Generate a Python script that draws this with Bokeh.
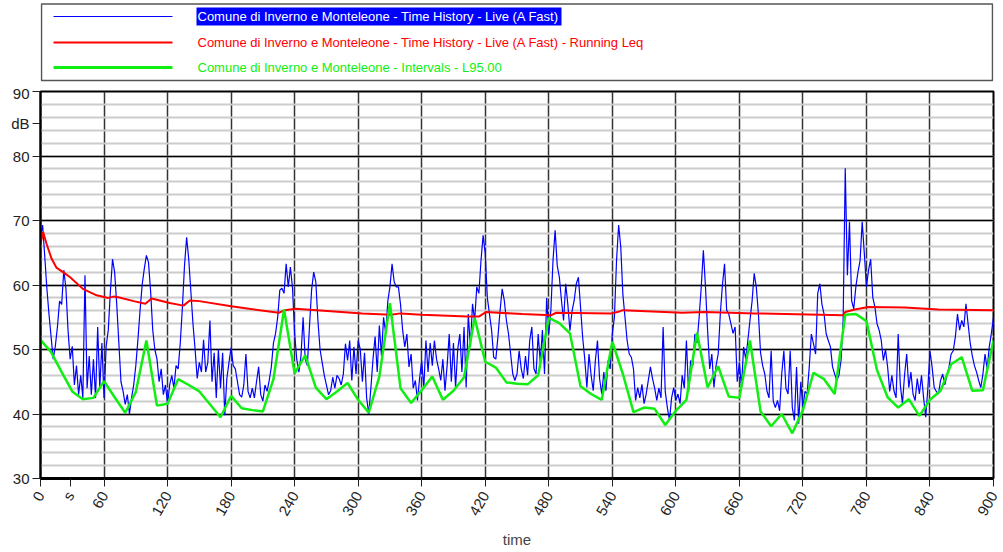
from bokeh.plotting import figure
from bokeh.models import Range1d, FixedTicker, SingleIntervalTicker
from bokeh.layouts import column
from bokeh.embed import file_html
from bokeh.resources import INLINE
from bokeh.core.properties import value

# ---------------- data ----------------
legend_labels = [
    "Comune di Inverno e Monteleone - Time History - Live (A Fast)",
    "Comune di Inverno e Monteleone - Time History - Live (A Fast) - Running Leq",
    "Comune di Inverno e Monteleone - Intervals - L95.00",
]
x_ticks = [0, 60, 120, 180, 240, 300, 360, 420, 480, 540, 600, 660, 720, 780, 840, 900]
y_ticks = [30, 40, 50, 60, 70, 80, 90]
x_unit, x_unit_pos = "s", 28
y_unit, y_unit_pos = "dB", 85
x_title = "time"

# Live (A Fast) time history, one value every 2 s
blue_seg1 = [67.5, 69.3, 64.5, 59.5, 55.5, 52, 48.5, 50.5, 53.5, 57.5, 57, 62.3, 59.5, 53, 48.5, 50.5,
             44.5, 47.5, 43, 46, 42.5, 61.5, 44, 49, 43, 48.5, 42.5, 53.5, 44, 51, 42.5, 50.5, 53, 59,
             64, 62, 57, 51, 45, 43.5, 41.5, 43, 40, 42.5, 44.5, 47.5, 51.5, 56, 60, 62.5, 64.6, 63.5,
             59, 53, 50, 48.5, 45, 47, 43, 44.5, 41.5, 44.5, 46, 44, 47.5, 47, 51, 56.5, 63, 67.4, 64,
             59, 54, 50, 45.5, 48]
blue_seg2 = [46.5, 51.5, 46.5, 48, 54.5, 45, 49.5, 42.5, 50, 44, 49.5, 39.8, 45.5, 48, 50.3, 47.5, 47,
             45, 43, 42.6, 44.5, 49.3, 43.5, 42.5, 44, 42.5, 45, 47.3, 43, 42, 44.5, 43.5, 45.2, 47.3,
             51, 52.5, 55, 59.2, 59.5, 58.7, 63.3, 59.7, 62.8, 59.5, 52.5, 48.5, 46.5, 49, 55, 48.5,
             47.5, 53.5, 59.2, 62, 60.5, 54.5, 50, 48, 46, 44.5, 43, 43.6, 45.7, 44, 46, 45.5, 44.5,
             46.2, 50.9, 48.3, 51.4, 45.2, 50.4, 46.2, 51.4]
blue_seg3 = [50, 45, 49.5, 42.5, 40, 44, 48.5, 52, 46.5, 53.7, 49, 55, 52.5, 57.5, 59.7, 63.3, 60.5,
             59.7, 59.7, 57, 53, 50.4, 52.4, 47.3, 49.3, 44, 45.2, 42.1, 45.5, 48.3, 44, 51.4, 46.5,
             51, 47.5, 51.4, 48.5, 47, 45.2, 48.5, 43.6, 47.5, 52.4, 45, 51, 44, 50, 52.4, 46.5, 53.5,
             44.1, 55.5, 50.4, 57.1, 54.5, 59.7, 58.7, 63.8, 67.7, 64.9, 58, 55.5, 53, 48.8, 48.5, 52,
             56, 59.4, 57.6, 54.5, 52.4, 49.3, 46.2, 45.2, 46.2]
blue_seg4 = [49.8, 47, 45.5, 49, 46, 51.4, 53.5, 47, 46.2, 52.4, 48, 53, 46.2, 58, 52.4, 56.1, 63.8,
             68.5, 63, 61.2, 57.6, 54.5, 60.2, 57, 52.9, 56, 57.6, 60.2, 61.2, 56.6, 51.9, 48.5, 44.1,
             49.3, 46, 43.6, 48.3, 51.4, 45.5, 43.1, 46.5, 43.6, 48.3, 47, 52.4, 55, 63.8, 69.3, 65.9,
             58.5, 55, 51.4, 49.3, 48.8, 47, 42.1, 44.1, 42.5, 44.6, 41.6, 43.1, 45.2, 47.3, 45.5, 44,
             42.1, 44, 42.5, 53.5, 43.5, 41, 39, 42.5, 44.1, 42.1]
blue_seg5 = [43.1, 41.6, 46, 44, 51.4, 43.5, 48.3, 47.5, 52.4, 51, 55, 59.7, 65.4, 59.7, 53, 47, 49.3,
             44.1, 47.5, 49.3, 55.5, 60, 63.3, 56.1, 55.5, 54, 52.5, 53.5, 45, 48, 44.1, 50.4, 48.5,
             51.4, 54.5, 57.5, 61.8, 59.7, 55.5, 49.5, 47.5, 46.2, 43.6, 42.5, 49.8, 42, 41, 42.1, 40.5,
             46.2, 49.8, 44, 43.1, 49.8, 41, 39, 47.3, 38.5, 45, 41, 43.5, 43.1, 47.3, 52.4, 50.9, 49.3,
             58.7, 60.2, 57, 55.5, 52.4, 51.4, 50.4, 47.3, 46.2, 45.2, 46, 48.3, 54.5]
blue_seg6 = [78.1, 61.5, 69.8, 57.6, 56.3, 59.7, 62, 63.8, 69.8, 64.9, 59.7, 62.3, 64, 58.1, 56.6, 54,
             53, 51.4, 48.3, 50, 47.3, 43.5, 46, 43.6, 42.5, 52.4, 44.5, 41.6, 46, 49.3, 44.1, 46.5,
             43.1, 42.1, 45.5, 43.1, 46, 42.5, 39.5, 44, 49.8, 47.3, 44.1, 43.5, 43.1, 45.2, 46.2, 44.5,
             46, 47.3, 49.3, 49.8, 52, 55.5, 53, 54.5, 53.5, 57.1, 54, 51, 49, 47.5, 46.5, 45.2, 44.1,
             46.2, 49.3, 47, 50.4, 52.5, 55]
blue_db = blue_seg1 + blue_seg2 + blue_seg3 + blue_seg4 + blue_seg5 + blue_seg6
blue_t = [2 * i for i in range(len(blue_db))]

# Running Leq
red_t = [0, 2.5, 5.7, 10.4, 15, 23, 28, 40, 53, 64, 68.8, 73.5, 88, 99, 105, 122, 135, 141, 150, 180,
         225, 231, 241, 261, 304, 331, 340, 360, 403, 414, 420.5, 455, 482, 487, 539, 545, 550, 606,
         627, 675, 758, 760, 769, 782, 816, 848, 900]
red_db = [66.4, 68.2, 66.4, 64.1, 62.7, 61.8, 61.2, 59.4, 58.4, 58.0, 58.2, 58.1, 57.5, 57.1, 57.9,
          57.2, 56.8, 57.6, 57.5, 56.7, 55.7, 56.1, 56.3, 56.1, 55.6, 55.4, 55.6, 55.4, 55.1, 55.1,
          55.8, 55.5, 55.3, 55.7, 55.6, 55.8, 56.1, 55.7, 55.8, 55.6, 55.3, 55.8, 56.2, 56.6, 56.5,
          56.2, 56.1]

# L95 per 10 s interval
green_t = [10 * i for i in range(91)]
green_db = [51.5, 49.6, 46.5, 43.5, 42.3, 42.5, 45.1, 42.6, 40.2, 43.4,
            51.4, 41.3, 41.6, 45.4, 44.5, 43.5, 41.5, 39.5, 42.8, 40.9,
            40.6, 40.4, 45.4, 56.2, 46.3, 49.1, 44.1, 42.3, 43.5, 44.8,
            42.2, 40.2, 45.8, 57.2, 44.0, 41.7, 43.7, 45.8, 42.2, 43.6,
            45.7, 54.9, 48.1, 47.2, 44.9, 44.7, 44.6, 46.0, 54.9, 54.1,
            52.5, 44.3, 43.1, 42.2, 51.2, 46.2, 40.3, 41.0, 40.8, 38.3,
            40.5, 42.2, 52.6, 44.1, 47.4, 42.7, 42.5, 51.4, 40.4, 38.1,
            40.0, 37.0, 40.6, 46.4, 45.4, 43.1, 55.4, 55.5, 54.4, 46.8,
            42.6, 41.0, 42.3, 39.7, 42.2, 43.6, 47.7, 48.8, 43.6, 43.7, 51.4]

# ---------------- styles ----------------
BLUE, RED, GREEN = "#0000ff", "#ff0000", "#11ee11"
colors = [BLUE, RED, GREEN]
widths = [1, 2, 3]
FONT = "Liberation Sans"

# ---------------- legend panel (coordinates = page pixels) ----------------
W = 1003
LEG_H = 84
leg = figure(width=W, height=LEG_H, x_range=Range1d(40, 993), y_range=Range1d(LEG_H, 0),
             toolbar_location=None, output_backend="svg", min_border=0,
             min_border_left=40, min_border_right=10,
             x_axis_type=None, y_axis_type=None, outline_line_color=None)
leg.xgrid.visible = False
leg.ygrid.visible = False
leg.quad(left=[41], right=[992], top=[3.5], bottom=[80], fill_color=None,
         line_color="#555555", line_width=1.5)
row_y = [16, 42, 67]
leg.quad(left=[196], right=[561], top=[7], bottom=[25], fill_color="#0000ff", line_color=None)
for i in range(3):
    leg.line([53, 172], [row_y[i], row_y[i]], line_color=colors[i], line_width=widths[i])
text_cols = ["white", RED, GREEN]
for i in range(3):
    leg.text([197], [row_y[i]], text=[legend_labels[i]], text_color=text_cols[i],
             text_font=value(FONT), text_font_size="13px", text_baseline="middle")

# ---------------- main plot ----------------
MAIN_H = 466
p = figure(width=W, height=MAIN_H, x_range=Range1d(0, 900), y_range=Range1d(30, 90),
           toolbar_location=None, output_backend="svg",
           min_border_left=40, min_border_right=10, min_border_top=7,
           min_border_bottom=MAIN_H - 7 - 387,
           outline_line_color="black", outline_line_width=2)

p.line(blue_t, blue_db, line_color=BLUE, line_width=1.2)
p.line(red_t, red_db, line_color=RED, line_width=2)
p.line(green_t, green_db, line_color=GREEN, line_width=2.5)

p.xaxis.ticker = FixedTicker(ticks=sorted(x_ticks + [x_unit_pos]), minor_ticks=[])
p.xaxis.major_label_overrides = {x_unit_pos: x_unit}
p.yaxis.ticker = FixedTicker(ticks=sorted(y_ticks + [y_unit_pos]), minor_ticks=[])
p.yaxis.major_label_overrides = {y_unit_pos: y_unit}
p.xgrid.ticker = FixedTicker(ticks=x_ticks)
p.ygrid.ticker = SingleIntervalTicker(interval=10, num_minor_ticks=5)

p.xaxis.major_label_orientation = 1.05
p.xaxis.axis_label = x_title
p.xaxis.axis_label_text_font_style = "normal"
p.xaxis.axis_label_text_font = FONT
p.xaxis.axis_label_text_font_size = "15px"
p.xaxis.axis_label_standoff = 5
for ax in (p.xaxis, p.yaxis):
    ax.major_label_text_font = FONT
    ax.major_label_text_font_size = "15px"
    ax.major_label_text_color = "#222222"
    ax.major_tick_line_color = "#222222"
    ax.major_tick_out = 8
    ax.major_tick_in = 0
    ax.minor_tick_line_color = None
    ax.major_label_standoff = 3
p.xaxis.major_label_standoff = 6
p.xaxis.axis_line_width = 3
p.yaxis.axis_line_width = 2

p.xgrid.grid_line_color = "#333333"
p.xgrid.grid_line_width = 1.5
p.ygrid.grid_line_color = "black"
p.ygrid.grid_line_width = 1.5
p.ygrid.minor_grid_line_color = "#cccccc"
p.ygrid.minor_grid_line_width = 2

layout = column(leg, p, spacing=0)
open("out.html", "w").write(file_html(layout, INLINE))
